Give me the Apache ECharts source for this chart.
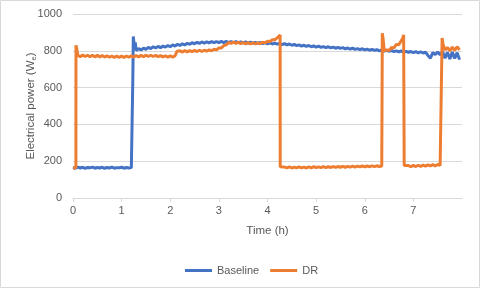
<!DOCTYPE html>
<html><head><meta charset="utf-8">
<script src="https://cdn.jsdelivr.net/npm/echarts@6/dist/echarts.min.js"></script>
<style>html,body{margin:0;padding:0;background:#fff}#c{width:480px;height:288px}</style>
</head><body><div id="c"></div>
<script>
var seriesNames = ['Baseline', 'DR'];
var xTicks = [0, 1, 2, 3, 4, 5, 6, 7, 8];
var yTicks = [0, 200, 400, 600, 800, 1000];

var hoursBase = [0,0.05,0.1,0.15,0.2,0.25,0.3,0.35,0.4,0.45,0.5,0.55,0.6,0.65,0.7,0.75,0.8,0.85,0.9,0.95,1.0,1.05,1.1,1.15,1.2,
1.22,1.23,1.24,1.26,1.28,1.3,
1.35,1.4,1.45,1.5,1.55,1.6,1.65,1.7,1.75,1.8,1.85,1.9,1.95,2.0,2.05,2.1,2.15,2.2,2.25,2.3,2.35,2.4,2.45,2.5,2.55,2.6,2.65,2.7,2.75,2.8,2.85,2.9,2.95,3.0,
3.05,3.1,3.15,3.2,3.25,3.3,3.35,3.4,3.45,3.5,3.55,3.6,3.65,3.7,3.75,3.8,3.85,3.9,3.95,4.0,4.05,4.1,4.15,4.2,4.25,4.3,4.35,4.4,4.45,4.5,4.55,4.6,4.65,4.7,4.75,4.8,4.85,4.9,4.95,5.0,
5.05,5.1,5.15,5.2,5.25,5.3,5.35,5.4,5.45,5.5,5.55,5.6,5.65,5.7,5.75,5.8,5.85,5.9,5.95,6.0,6.05,6.1,6.15,6.2,6.25,6.3,6.35,6.4,6.45,6.5,6.55,6.6,6.65,6.7,6.75,6.8,6.85,6.9,6.95,7.0,
7.05,7.1,7.15,7.2,7.25,7.3,7.35,7.4,7.45,7.5,7.55,7.6,7.65,7.7,7.75,7.8,7.85,7.9,7.95];
var wattsBase = [166,162,168,163,167,161,166,164,168,162,166,163,167,161,166,163,168,162,165,164,167,162,166,163,165,
172,640,878,825,845,802,
812,804,815,808,819,812,822,815,824,817,826,820,829,822,832,826,835,829,838,832,841,835,844,838,846,840,848,842,849,843,850,844,850,845,
851,845,851,845,850,844,850,844,849,843,848,842,847,841,846,840,845,839,844,838,843,837,842,836,840,834,839,832,837,830,835,828,832,826,830,824,829,822,827,820,
825,819,823,817,822,816,820,814,819,813,817,811,815,809,814,808,812,806,811,805,809,803,808,802,806,800,805,798,803,797,802,795,800,794,799,793,797,792,796,790,
795,789,794,788,792,775,760,790,780,793,778,796,760,792,755,794,758,790,752];

var hoursDR = [0,0.03,0.06,0.061,0.08,0.1,0.12,
0.15,0.2,0.25,0.3,0.35,0.4,0.45,0.5,0.55,0.6,0.65,0.7,0.75,0.8,0.85,0.9,0.95,1.0,1.05,1.1,1.15,1.2,1.25,1.3,1.35,1.4,1.45,1.5,1.55,1.6,1.65,1.7,1.75,1.8,1.85,1.9,1.95,2.0,2.05,2.1,
2.12,2.14,
2.15,2.2,2.25,2.3,2.35,2.4,2.45,2.5,2.55,2.6,2.65,2.7,2.75,2.8,2.85,2.9,2.95,3.0,3.05,3.1,3.15,3.2,3.25,3.3,3.35,3.4,3.45,3.5,3.55,3.6,3.65,3.7,3.75,3.8,3.85,3.9,3.95,4.0,4.05,4.1,4.15,4.2,
4.24,4.26,4.261,4.3,
4.35,4.4,4.45,4.5,4.55,4.6,4.65,4.7,4.75,4.8,4.85,4.9,4.95,5.0,5.05,5.1,5.15,5.2,5.25,5.3,5.35,5.4,5.45,5.5,5.55,5.6,5.65,5.7,5.75,5.8,5.85,5.9,5.95,6.0,6.05,6.1,6.15,6.2,6.25,6.3,6.35,
6.36,6.361,6.38,6.4,6.42,6.45,6.5,6.55,6.6,6.65,6.7,6.75,6.78,6.8,6.81,6.811,6.85,
6.9,6.95,7.0,7.05,7.1,7.15,7.2,7.25,7.3,7.35,7.4,7.45,7.5,7.55,
7.58,7.59,7.591,7.61,7.65,7.7,7.75,7.8,7.85,7.9,7.95];
var wattsDR = [162,170,165,830,805,775,782,
768,777,769,776,768,776,767,775,767,774,766,773,765,772,764,772,764,771,764,772,765,773,766,774,767,775,768,776,769,776,769,775,768,774,767,773,766,772,766,773,
772,798,
792,800,793,801,794,801,795,802,796,803,797,803,798,805,800,808,805,815,815,828,832,845,840,847,840,846,839,845,838,844,838,843,837,843,838,846,843,852,850,860,860,870,
880,886,170,163,
168,164,169,163,168,164,169,164,168,163,169,164,170,165,169,165,170,165,170,166,171,166,171,167,172,167,172,168,173,168,173,169,174,169,174,170,175,170,175,171,174,
176,895,860,800,790,805,802,818,815,835,833,855,868,886,886,176,168,
176,170,177,171,178,172,179,173,180,174,181,175,182,177,
184,182,870,835,805,818,800,820,802,822,805];

function pairs(h, w) { return h.map(function (t, i) { return [t, w[i]]; }); }

var txt = '#595959';
var font = 'Liberation Sans';
var chart = echarts.init(document.getElementById('c'), null, {renderer: 'canvas'});
chart.setOption({
  animation: false,
  backgroundColor: '#fff',
  textStyle: {fontFamily: font, color: txt},
  graphic: [{type: 'rect', shape: {x: 0.5, y: 0.5, width: 479, height: 287}, style: {fill: 'none', stroke: '#d9d9d9', lineWidth: 1}, silent: true}],
  grid: {left: 73, right: 18, top: 14, bottom: 90},
  legend: {
    left: 180, top: 260, itemWidth: 27, itemHeight: 3, itemGap: 11, icon: 'rect',
    textStyle: {fontFamily: font, fontSize: 11, color: txt},
    data: seriesNames
  },
  xAxis: {
    type: 'value', min: xTicks[0], max: xTicks[xTicks.length - 1], interval: 1,
    name: 'Time (h)', nameLocation: 'middle', nameGap: 27,
    nameTextStyle: {fontFamily: font, fontSize: 11.5, color: txt},
    axisLine: {show: true, lineStyle: {color: '#d9d9d9', width: 1}},
    axisTick: {show: true, length: 4, lineStyle: {color: '#d9d9d9'}},
    axisLabel: {fontFamily: font, fontSize: 11, color: txt, margin: 7, showMaxLabel: false},
    splitLine: {show: false}
  },
  yAxis: {
    type: 'value', min: yTicks[0], max: yTicks[yTicks.length - 1], interval: 200,
    name: '{a|Electrical power (W}{s|e}{a|)}', nameLocation: 'middle', nameGap: 35, nameMoveOverlap: false,
    nameTextStyle: {fontFamily: font, fontSize: 11.5, color: txt,
      rich: {a: {fontFamily: font, fontSize: 11.5, color: txt}, s: {fontFamily: font, fontSize: 7.5, color: txt, verticalAlign: 'bottom', padding: [6, 0, 0, 0]}}},
    axisLine: {show: false}, axisTick: {show: false},
    axisLabel: {fontFamily: font, fontSize: 11, color: txt, margin: 11, formatter: function (v) { return String(v); }},
    splitLine: {lineStyle: {color: '#d9d9d9', width: 1}}
  },
  series: [
    {name: seriesNames[0], type: 'line', data: pairs(hoursBase, wattsBase), showSymbol: false, symbol: 'none',
     lineStyle: {color: '#4472C4', width: 3}, itemStyle: {color: '#4472C4'}},
    {name: seriesNames[1], type: 'line', data: pairs(hoursDR, wattsDR), showSymbol: false, symbol: 'none',
     lineStyle: {color: '#ED7D31', width: 3}, itemStyle: {color: '#ED7D31'}}
  ]
});
</script></body></html>
